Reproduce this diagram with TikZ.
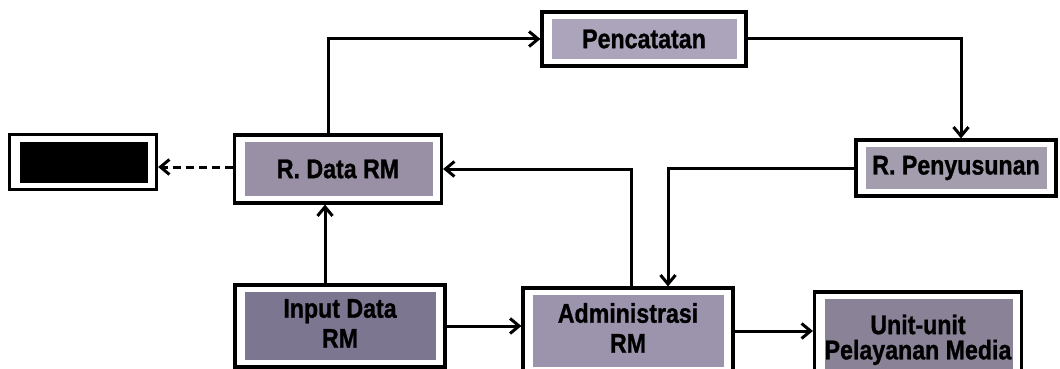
\documentclass[tikz,border=0pt]{standalone}
\usepackage{fontspec}
\setmainfont{Liberation Sans}
\newfontfamily\heavyfont{Liberation Sans Bold}[FakeBold=1.2]
\usetikzlibrary{arrows.meta}
\definecolor{fillA}{HTML}{ABA4BA}
\definecolor{fillB}{HTML}{9A90A6}
\definecolor{fillC}{HTML}{A39DAE}
\definecolor{fillD}{HTML}{7D7690}
\definecolor{fillE}{HTML}{9C93AC}
\definecolor{fillF}{HTML}{8A8296}
\newcommand\boxtext[1]{\scalebox{1.03}[1.2]{\heavyfont #1}}
\begin{document}
\begin{tikzpicture}[x=1pt,y=-1pt,
  panel/.style={draw=black, line width=3.2pt, fill=white, rectangle, inner sep=0pt,
    font=\fontsize{22.5}{28}\selectfont, align=center,
    path picture={\fill[#1] ([xshift=10pt,yshift=-7pt]path picture bounding box.north west)
      rectangle ([xshift=-9pt,yshift=7pt]path picture bounding box.south east);}},
  link/.style={line width=3pt, -{Straight Barb[length=9pt,width=15pt,line width=3pt]}},
  dashlink/.style={link, dash pattern=on 8pt off 5pt}]
  \useasboundingbox (0,0) rectangle (1060,369);

  % boxes
  \node[panel=fillA, minimum width=204pt, minimum height=54pt] (penc) at (644,39) {\boxtext{Pencatatan}};
  \node[panel=fillB, minimum width=207pt, minimum height=68pt] (rdata) at (338,169) {\boxtext{R. Data RM}};
  \node[panel=black, minimum width=147pt, minimum height=55pt] (hidden) at (83,162) {};
  \node[panel=fillC, minimum width=200pt, minimum height=56pt] (penyus) at (956,168) {\boxtext{R. Penyusunan}};
  \node[panel=fillD, minimum width=210pt, minimum height=82pt] (input) at (340,326) {\boxtext{\begin{tabular}{@{}c@{}}Input Data\\[-3pt]RM\end{tabular}}};
  \node[panel=fillE, minimum width=210pt, minimum height=86pt] (admin) at (628,331) {\boxtext{\begin{tabular}{@{}c@{}}Administrasi\\[-3pt]RM\end{tabular}}};
  \node[panel=fillF, minimum width=207pt, minimum height=96pt] (unit) at (918,340) {\raisebox{10pt}{\boxtext{\begin{tabular}{@{}c@{}}Unit-unit\\[-7pt]Pelayanan Media\end{tabular}}}};

  % connector anchors
  \coordinate (rdUp) at ([xshift=-10pt]rdata.north);
  \coordinate (pyIn) at ([xshift=5pt]penyus.north);
  \coordinate (adIn) at ([xshift=40pt]admin.north);
  \coordinate (adUp) at ([xshift=3pt]admin.north);
  \coordinate (inUp) at ([xshift=-15pt]input.north);

  % connectors
  \draw[link] (rdUp) |- (penc.west);
  \draw[link] (penc.east) -| (pyIn);
  \draw[link] (penyus.west) -| (adIn);
  \draw[link] (adUp) |- (rdata.east);
  \draw[link] (inUp) -- (inUp |- rdata.south);
  \draw[link] (input.east) -- (input.east -| admin.west);
  \draw[link] (admin.east) -- (admin.east -| unit.west);
  \draw[dashlink] ([yshift=2pt]rdata.west) -- ([yshift=2pt]rdata.west -| hidden.east);
\end{tikzpicture}
\end{document}
